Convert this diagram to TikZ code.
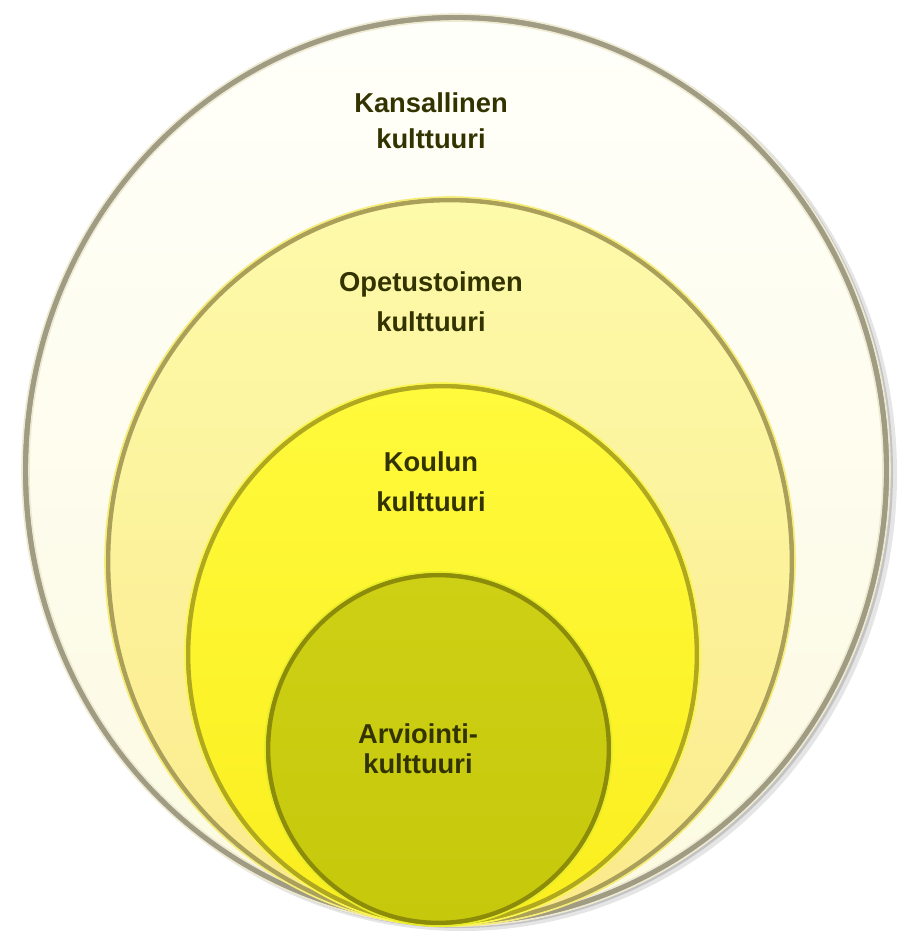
\documentclass[tikz,border=0pt]{standalone}
\usepackage{fontspec}
\setmainfont{Liberation Sans}
\definecolor{txtolive}{RGB}{51,51,0}
\definecolor{kansTop}{RGB}{255,255,250}
\definecolor{kansBot}{RGB}{252,250,225}
\definecolor{kansRim}{RGB}{160,156,132}
\definecolor{kansEdge}{RGB}{238,234,210}
\definecolor{opetTop}{RGB}{253,250,170}
\definecolor{opetBot}{RGB}{251,234,140}
\definecolor{opetRim}{RGB}{170,160,90}
\definecolor{opetEdge}{RGB}{246,236,120}
\definecolor{koulTop}{RGB}{255,250,60}
\definecolor{koulBot}{RGB}{250,238,30}
\definecolor{koulRim}{RGB}{176,168,30}
\definecolor{koulEdge}{RGB}{250,245,80}
\definecolor{arvTop}{RGB}{205,208,20}
\definecolor{arvBot}{RGB}{198,200,12}
\definecolor{arvRim}{RGB}{140,140,10}
\definecolor{arvEdge}{RGB}{232,236,40}
\tikzset{
  rim/.style={line width=3.5pt},
  edge/.style={line width=1.2pt},
  lbl/.style={inner sep=0.75pt, align=center, text=txtolive, font=\bfseries\fontsize{20.5}{#1}\selectfont},
}
\begin{document}
\begin{tikzpicture}[x=0.75pt,y=0.75pt,yscale=-1,xscale=1]
\useasboundingbox (0,0) rectangle (904,937);

%Shadow of outer ellipse
\fill [black, opacity=0.10] (462,474) ellipse (435 and 457);
\fill [black, opacity=0.15] (459,472) ellipse (434 and 456);
%Shape: Ellipse [id:kansallinen]
\shade [top color=kansTop, bottom color=kansBot] (456,470) ellipse (434 and 456);
\draw [rim, line width=4.5pt, color=kansRim] (456,470) ellipse (430.5 and 452.5);
\draw [edge, color=kansEdge] (456,470) ellipse (434 and 456);
\draw [edge, color=kansEdge] (456,470) ellipse (427 and 449);

%Shape: Ellipse [id:opetustoimi]
\shade [top color=opetTop, bottom color=opetBot] (450,561.5) ellipse (345 and 364.5);
\draw [rim, color=opetRim] (450,561.5) ellipse (342 and 361.5);
\draw [edge, color=opetEdge] (450,561.5) ellipse (345 and 364.5);

%Shape: Ellipse [id:koulu]
\shade [top color=koulTop, bottom color=koulBot] (442.5,654.5) ellipse (257.5 and 271.5);
\draw [rim, color=koulRim] (442.5,654.5) ellipse (254.5 and 268.5);
\draw [edge, color=koulEdge] (442.5,654.5) ellipse (257.5 and 271.5);

%Shape: Ellipse [id:arviointi]
\shade [top color=arvTop, bottom color=arvBot] (438.5,749) ellipse (173.5 and 177);
\draw [rim, color=arvRim] (438.5,749) ellipse (170.5 and 174);
\draw [edge, color=arvEdge] (438.5,749) ellipse (173.5 and 177);

% Text Node
\node [lbl=27] (kans) at (431,121) {Kansallinen\\kulttuuri};
% Text Node
\node [lbl=30] (opet) at (431,302) {Opetustoimen\\kulttuuri};
% Text Node
\node [lbl=30] (koul) at (431,482) {Koulun\\kulttuuri};
% Text Node
\node [lbl=22.5] (arv) at (418,749) {Arviointi-\\kulttuuri};
\end{tikzpicture}
\end{document}
